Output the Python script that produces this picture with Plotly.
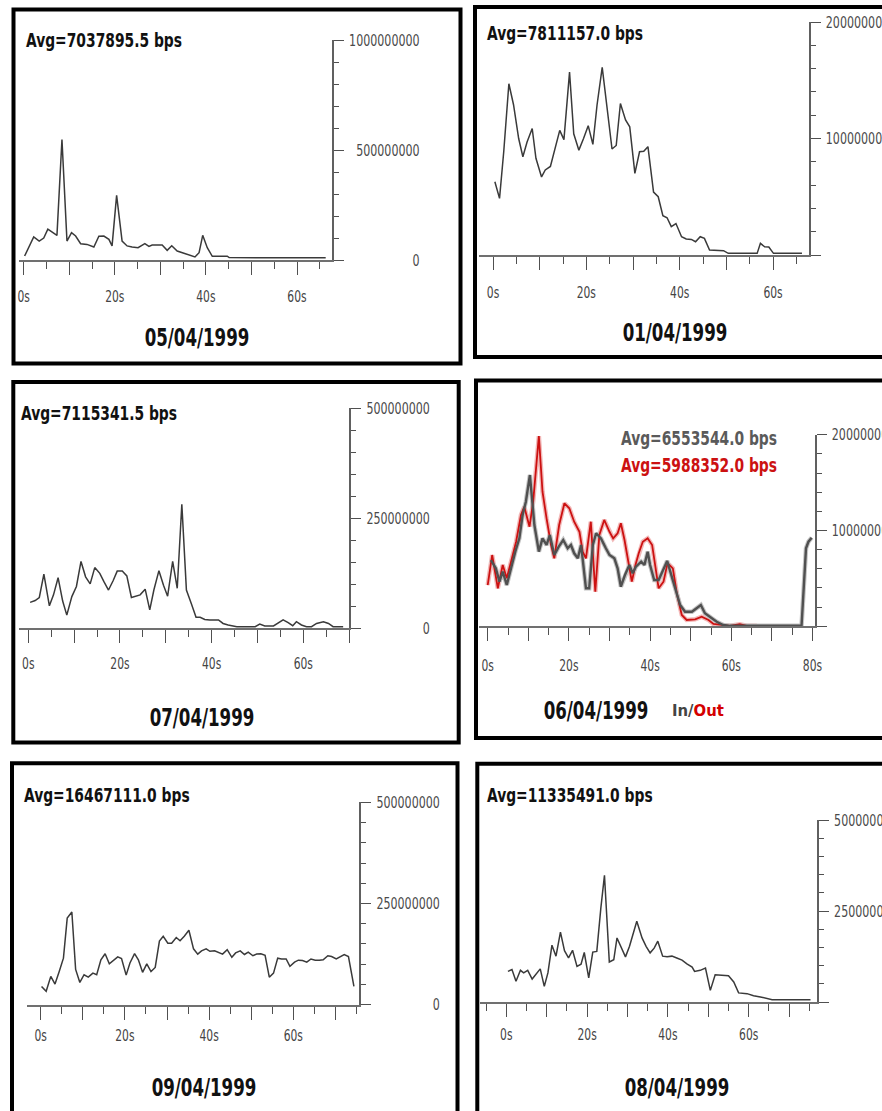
import plotly.graph_objects as go

W, H = 882, 1111

# ---------------- data (time in s, rate in Mbit/s) ----------------
p1_t = [0.2, 2.2, 3.4, 4.4, 5.3, 6.2, 7.3, 8.4, 9.5, 10.5, 11.4, 12.5, 13.9, 15.4, 16.5, 17.6, 18.7, 19.4, 20.4, 21.6,
        22.7, 23.8, 25.1, 26.6, 27.5, 28.2, 30.4, 31.5, 32.5, 33.7, 35.2, 36.3, 37.6, 38.5, 39.3, 40.3, 41.4, 44.7, 45.1, 66.3]
p1_v = [18, 105, 86, 100, 140, 129, 112, 548, 86, 124, 109, 74, 71, 59, 108, 109, 94, 64, 294, 86,
        64, 59, 56, 74, 62, 68, 68, 44, 65, 41, 30, 23, 14, 33, 112, 56, 17, 17, 11, 10]

p2_t = [0.4, 1.4, 2.3, 3.4, 4.4, 5.5, 6.4, 7.3, 8.4, 9.2, 10.4, 11.2, 12.3, 13.4, 14.3, 15.2, 16.4, 17.3, 18.4, 19.4,
        20.4, 21.4, 22.3, 23.4, 24.4, 25.5, 26.4, 27.3, 28.4, 29.3, 30.4, 31.4, 32.3, 33.2, 34.4, 35.4, 36.4, 37.3, 38.2, 39.2,
        40.4, 41.4, 42.5, 43.4, 44.4, 45.3, 46.4, 49.4, 50.4, 56.6, 57.3, 58.2, 59.1, 60.1, 66.2]
p2_v = [62.9, 48.6, 88.6, 147, 129, 100, 84.3, 97, 108.6, 83, 67, 73, 76, 94, 107, 99, 157, 104, 90, 100,
        111, 95, 129, 161, 126, 91, 94, 130, 116, 110, 70, 88.6, 89, 93, 54, 50, 33.7, 32, 24.3, 27,
        15.7, 13.7, 13.4, 11.4, 15.7, 14.3, 4.3, 3.7, 1.4, 1.4, 10, 7.1, 6.9, 1.4, 1.4]

p3_t = [0.4, 1.5, 2.4, 3.4, 4.6, 5.5, 6.5, 7.5, 8.4, 9.5, 10.5, 11.5, 12.5, 13.5, 14.5, 15.6, 16.5, 17.5, 18.5, 19.4,
        20.5, 21.5, 22.5, 23.5, 24.4, 25.5, 26.5, 27.4, 28.5, 29.5, 30.4, 31.5, 32.5, 33.5, 34.5, 35.6, 36.6, 37.5, 38.5, 39.6,
        41.5, 42.5, 43.6, 45.5, 49.5, 50.5, 51.6, 53.5, 54.5, 55.6, 56.7, 57.7, 58.5, 59.6, 60.7, 61.8, 62.9, 64.4, 65.5, 66.5, 68.7]
p3_v = [59, 63, 70, 123, 51, 76, 115, 62, 30, 72, 95, 152, 117, 101, 138, 125, 106, 87, 108, 130,
        130, 119, 70, 73, 76, 89, 42, 87, 131, 98, 73, 152, 91, 282, 87, 55, 25, 25, 20, 19,
        19, 11, 7.6, 3.8, 3.8, 9.8, 5.3, 5.3, 11, 19, 13, 6, 15, 7.6, 3.8, 3.8, 11, 15, 11, 3.8, 3.8]

p4_in_t = [0.8, 2.0, 2.9, 3.7, 4.7, 5.7, 6.8, 7.8, 8.6, 9.4, 10.4, 11.5, 12.6, 13.5, 14.5, 15.3, 16.4, 17.5, 18.6, 19.7,
           20.5, 21.3, 22.2, 23.0, 23.8, 24.2, 25.0, 25.9, 26.7, 27.9, 29.1, 30.0, 31.2, 32.0, 32.8, 33.8, 34.9, 35.7, 36.5, 37.8,
           38.6, 39.4, 40.0, 41.0, 42.1, 43.1, 44.2, 45.7, 47.4, 48.6, 50.3, 52.5, 53.5, 54.7, 56.4, 58.0, 59.7, 77.3, 78.4, 79.0, 79.8]
p4_in_v = [69, 60.5, 46.6, 57, 43.1, 60.5, 77.9, 91.8, 116.2, 130.1, 157.9, 105.7, 77.9, 91.8, 84.9, 95.3, 74.4, 83.1, 90.1, 81.4,
           84.9, 76.2, 71, 84.9, 55.3, 39.7, 39.7, 84.9, 97.1, 91.8, 81.4, 74.4, 71, 60.5, 41.3, 53.5, 64, 55.3, 62.2, 67.4,
           64, 77.9, 64, 48.3, 48.3, 57, 68.2, 46.6, 22.2, 15.2, 15.2, 22.2, 13.6, 10, 4.8, 1.4, 0.5, 0.5, 81.4, 88.3, 92.5]

p4_out_t = [0.0, 1.1, 2.5, 3.7, 4.7, 5.7, 7.0, 8.2, 9.0, 10.3, 11.2, 12.6, 13.5, 14.5, 15.6, 16.4, 17.6, 18.9, 20.1, 21.3,
            22.6, 23.4, 24.2, 25.4, 26.5, 27.5, 28.7, 30.0, 30.9, 32.0, 32.8, 33.7, 34.5, 35.5, 36.4, 37.2, 38.2, 39.4, 40.5, 41.5,
            42.1, 43.3, 44.3, 45.6, 46.6, 47.8, 49.0, 51.1, 52.7, 54.4, 55.6, 57.6, 59.7, 62.1, 63.8, 66.3]
p4_out_v = [43.1, 74.4, 39.7, 64, 50.1, 67.4, 88.3, 116.2, 124.8, 104, 130.1, 198.5, 140.5, 112.7, 84.9, 71, 105.7, 128.4, 123.2, 109.2,
            98.7, 77.9, 71, 109.2, 36.1, 95.3, 111, 98.7, 91.8, 97.1, 107.5, 90.1, 71, 46.6, 64, 76.2, 88.3, 91.8, 84.9, 57,
            39.7, 46.6, 66, 60.5, 34, 11.8, 6.6, 7.3, 10, 6.6, 2.4, 1.4, 0.5, 2.1, 0.5, 0.5]

p5_t = [0.2, 1.3, 2.4, 3.4, 4.4, 5.4, 6.3, 7.4, 8.3, 9.3, 10.3, 11.3, 12.4, 13.3, 14.3, 15.3, 16.3, 17.3, 18.3, 19.2,
        20.3, 21.2, 22.3, 23.2, 24.2, 25.2, 26.2, 27.2, 28.2, 29.1, 30.2, 31.1, 32.2, 33.1, 34.1, 35.2, 36.3, 37.3, 38.2, 39.3,
        40.2, 41.3, 42.2, 43.2, 44.3, 45.4, 46.3, 47.4, 48.4, 49.3, 50.4, 51.3, 52.3, 53.3, 54.3, 55.3, 56.3, 57.2, 58.3, 59.2,
        60.3, 61.2, 62.2, 63.2, 64.2, 65.2, 66.2, 67.1, 68.2, 69.1, 70.2, 71.1, 72.1, 73.1, 74.4]
p5_v = [45, 33, 70, 51, 82, 115, 214, 229, 87, 55, 74, 68, 78, 74, 111, 126, 101, 110, 118, 114,
        73, 103, 126, 111, 80, 101, 82, 92, 157, 169, 152, 152, 166, 158, 169, 184, 138, 125, 133, 138,
        132, 133, 129, 125, 136, 117, 128, 133, 124, 130, 121, 125, 126, 122, 68, 78, 115, 113, 113, 95,
        105, 110, 109, 105, 113, 110, 110, 111, 121, 119, 113, 118, 124, 119, 45]

p6_t = [0.4, 1.4, 2.4, 3.5, 4.3, 5.3, 6.4, 7.3, 8.4, 9.4, 10.3, 11.3, 12.3, 13.4, 14.4, 15.4, 16.4, 17.5, 18.5, 19.3,
        20.4, 21.4, 22.4, 23.4, 24.3, 25.5, 26.6, 27.4, 28.5, 29.5, 30.5, 31.5, 32.3, 33.6, 34.6, 35.6, 36.6, 37.5, 38.7, 39.8,
        41.0, 42.2, 43.5, 44.7, 46.0, 46.6, 48.0, 49.3, 50.5, 51.7, 53.2, 55.0, 56.3, 57.5, 59.6, 61.2, 62.9, 64.9, 65.8, 75.3]
p6_v = [84, 89, 57, 87, 80, 87, 63, 77, 91, 43, 80, 156, 126, 192, 141, 121, 142, 98, 104, 136,
        66, 137, 139, 258, 348, 110, 116, 176, 147, 124, 153, 194, 222, 176, 153, 135, 148, 167, 126, 124,
        126, 121, 115, 105, 96, 84, 87, 93, 32, 75, 73, 72, 55, 25, 23, 17, 14, 9, 6.4, 6.4]

# tick labels
x_labels_70 = ["0s", "20s", "40s", "60s"]
x_labels_80 = ["0s", "20s", "40s", "60s", "80s"]
y_labels_1g = ["0", "500000000", "1000000000"]
y_labels_200m = ["0", "100000000", "200000000"]
y_labels_500m = ["0", "250000000", "500000000"]

# panel texts
dates = ["05/04/1999", "01/04/1999", "07/04/1999", "06/04/1999", "09/04/1999", "08/04/1999"]
avgs = ["Avg=7037895.5 bps", "Avg=7811157.0 bps", "Avg=7115341.5 bps",
        "Avg=6553544.0 bps", "Avg=16467111.0 bps", "Avg=11335491.0 bps"]
avg_out = "Avg=5988352.0 bps"
inout = ["In/", "Out"]

# ---------------- layout geometry (pixels) ----------------
FONT = "DejaVu Sans Condensed, DejaVu Sans, sans-serif"
LINE = "#3a3a3a"
AXL = "#707070"
TICK = "#505050"
FIG_SPACE = "\u2007"  # digit-wide space, keeps the y labels right-aligned

panels = [
    dict(box=(13.5, 9.5, 460.5, 363.5), xl=19.0, xr=332.0, yt=40.0, yb=260.0, x0px=23.7, pps=4.555,
         xlab=x_labels_70, ylab=y_labels_1g, stand=8,
         avg=(23.7, 40.3), title=(197, 338), series=[(p1_t, p1_v)]),
    dict(box=(475.0, 7.0, 905.0, 357.0), xl=479.3, xr=808.7, yt=22.0, yb=255.0, x0px=493.0, pps=4.667,
         xlab=x_labels_70, ylab=y_labels_200m, stand=9,
         avg=(484.7, 33.3), title=(675.3, 333.3), series=[(p2_t, p2_v)]),
    dict(box=(13.3, 382.0, 458.7, 742.5), xl=19.3, xr=349.3, yt=408.3, yb=628.3, x0px=28.3, pps=4.583,
         xlab=x_labels_70, ylab=y_labels_500m, stand=7,
         avg=(19.3, 413.3), title=(201.7, 718.3), series=[(p3_t, p3_v)]),
    dict(box=(476.0, 380.5, 905.0, 738.0), xl=479.3, xr=814.7, yt=434.7, yb=626.3, x0px=487.7, pps=4.06,
         xlab=x_labels_80, ylab=y_labels_200m, stand=11,
         avg=None, title=(596.0, 711.3), series=None),
    dict(box=(12.0, 763.3, 457.5, 1140.0), xl=26.7, xr=359.3, yt=802.3, yb=1004.7, x0px=40.7, pps=4.21,
         xlab=x_labels_80[:4], ylab=y_labels_500m, stand=3,
         avg=(21.7, 795.3), title=(204, 1088), series=[(p5_t, p5_v)]),
    dict(box=(477.3, 763.8, 905.0, 1140.0), xl=480.3, xr=817.0, yt=820.0, yb=1002.0, x0px=506.3, pps=4.04,
         xlab=x_labels_80[:4], ylab=y_labels_500m, stand=4,
         avg=(485.3, 795.3), title=(677, 1088), series=[(p6_t, p6_v)]),
]


def px(x):
    return x / W


def py(y):
    return 1 - y / H


fig = go.Figure()
layout = dict(width=W, height=H, margin=dict(l=0, r=0, t=0, b=0, autoexpand=False),
              paper_bgcolor="white", plot_bgcolor="white", showlegend=False)
shapes, annotations = [], []

for i, p in enumerate(panels):
    n = i + 1
    xa = "xaxis" if n == 1 else f"xaxis{n}"
    ya = "yaxis" if n == 1 else f"yaxis{n}"
    xr_ = "x" if n == 1 else f"x{n}"
    yr_ = "y" if n == 1 else f"y{n}"

    xmin = (p["xl"] - p["x0px"]) / p["pps"]
    xmax = (p["xr"] - p["x0px"]) / p["pps"]
    yvals = [int(s) for s in p["ylab"]]
    ymax = yvals[-1]
    width = max(len(s) for s in p["ylab"])
    ytext = [s.rjust(width, FIG_SPACE) for s in p["ylab"]]

    label_at = {int(s[:-1]): s for s in p["xlab"]}
    tv = list(range(0, int(xmax) + 1, 10))
    tt = [label_at.get(v, "") for v in tv]

    layout[xa] = dict(domain=[px(p["xl"]), px(p["xr"])], range=[xmin, xmax], anchor=yr_, automargin=False,
                      showline=True, linecolor=AXL, linewidth=2, showgrid=False, zeroline=False,
                      ticks="outside", ticklen=13, tickwidth=1.3, tickcolor=TICK,
                      tickvals=tv, ticktext=tt, ticklabelstandoff=p["stand"],
                      tickfont=dict(family=FONT, size=15.5, color="#444"),
                      minor=dict(ticks="outside", ticklen=7, tickwidth=1.2, tickcolor=TICK, dtick=5, tick0=0),
                      fixedrange=True)
    layout[ya] = dict(domain=[py(p["yb"]), py(p["yt"])], range=[0, ymax], anchor=xr_, side="right",
                      automargin=False,
                      showline=True, linecolor="#606060", linewidth=1.8, showgrid=False, zeroline=False,
                      ticks="outside", ticklen=10, tickwidth=1.3, tickcolor=TICK,
                      tickvals=yvals, ticktext=ytext, ticklabelstandoff=2,
                      tickfont=dict(family=FONT, size=16, color="#4a4a4a"),
                      minor=dict(ticks="outside", ticklen=5, tickwidth=1.2, tickcolor=TICK, dtick=ymax / 10, tick0=0),
                      fixedrange=True)

    bx0, by0, bx1, by1 = p["box"]
    shapes.append(dict(type="rect", xref="paper", yref="paper", x0=px(bx0), x1=px(bx1), y0=py(by1), y1=py(by0),
                       line=dict(color="black", width=4), fillcolor="rgba(0,0,0,0)", layer="above"))

    if p["series"]:
        for t, v in p["series"]:
            fig.add_trace(go.Scatter(x=t, y=[a * 1e6 for a in v], mode="lines", xaxis=xr_, yaxis=yr_,
                                     line=dict(color=LINE, width=1.5), hoverinfo="skip"))
    if p["avg"]:
        annotations.append(dict(text=f"<b>{avgs[i]}</b>", xref="paper", yref="paper",
                                x=px(p["avg"][0]), y=py(p["avg"][1]),
                                xanchor="left", align="left", yanchor="middle", showarrow=False,
                                font=dict(family=FONT, size=20, color="#111")))
    annotations.append(dict(text=f"<b>{dates[i]}</b>", xref="paper", yref="paper",
                            x=px(p["title"][0]), y=py(p["title"][1]),
                            xanchor="center", align="center", yanchor="middle", showarrow=False,
                            font=dict(family=FONT, size=24, color="#111")))

# panel 4: two series In / Out
fig.add_trace(go.Scatter(x=p4_out_t, y=[a * 1e6 for a in p4_out_v], mode="lines", xaxis="x4", yaxis="y4",
                         line=dict(color="#f2b8b8", width=4.5), hoverinfo="skip"))
fig.add_trace(go.Scatter(x=p4_in_t, y=[a * 1e6 for a in p4_in_v], mode="lines", xaxis="x4", yaxis="y4",
                         line=dict(color="#c4c4c4", width=4.5), hoverinfo="skip"))
fig.add_trace(go.Scatter(x=p4_out_t, y=[a * 1e6 for a in p4_out_v], mode="lines", xaxis="x4", yaxis="y4",
                         line=dict(color="#cc1111", width=1.8), hoverinfo="skip"))
fig.add_trace(go.Scatter(x=p4_in_t, y=[a * 1e6 for a in p4_in_v], mode="lines", xaxis="x4", yaxis="y4",
                         line=dict(color="#505050", width=2.4), hoverinfo="skip"))

annotations.append(dict(text=f"<b>{avgs[3]}</b>", xref="paper", yref="paper", x=px(618.7), y=py(438),
                        xanchor="left", align="left", yanchor="middle", showarrow=False,
                        font=dict(family=FONT, size=20, color="#5a5a5a")))
annotations.append(dict(text=f"<b>{avg_out}</b>", xref="paper", yref="paper", x=px(618.7), y=py(465.3),
                        xanchor="left", align="left", yanchor="middle", showarrow=False,
                        font=dict(family=FONT, size=20, color="#cc1111")))
# "In/Out" legend words in one text run (small enough to need no squeezing)
annotations.append(dict(text=f"<b>{inout[0]}<span style='color:#d40000'>{inout[1]}</span></b>",
                        xref="paper", yref="paper",
                        x=px(670), y=py(710), xanchor="left", align="left", yanchor="middle", showarrow=False,
                        font=dict(family=FONT, size=16.5, color="#444")))

layout["shapes"] = shapes
layout["annotations"] = annotations
fig.update_layout(**layout)

# the source image is horizontally squeezed: narrow every text run the same way
squeeze = """
var gd = document.getElementById('{plot_id}');
var SKIP = {'In/Out': 1};
function squeezeText() {
  var F = 0.77;
  gd.querySelectorAll('svg text').forEach(function (t) {
    if (t.getAttribute('data-sq')) return;
    if (SKIP[t.textContent]) return;
    var w = t.getComputedTextLength();
    if (w > 0) {
      t.setAttribute('textLength', (w * F).toFixed(2));
      t.setAttribute('lengthAdjust', 'spacingAndGlyphs');
      t.setAttribute('data-sq', '1');
    }
  });
}
squeezeText();
"""
fig.write_html("out.html", post_script=squeeze)
